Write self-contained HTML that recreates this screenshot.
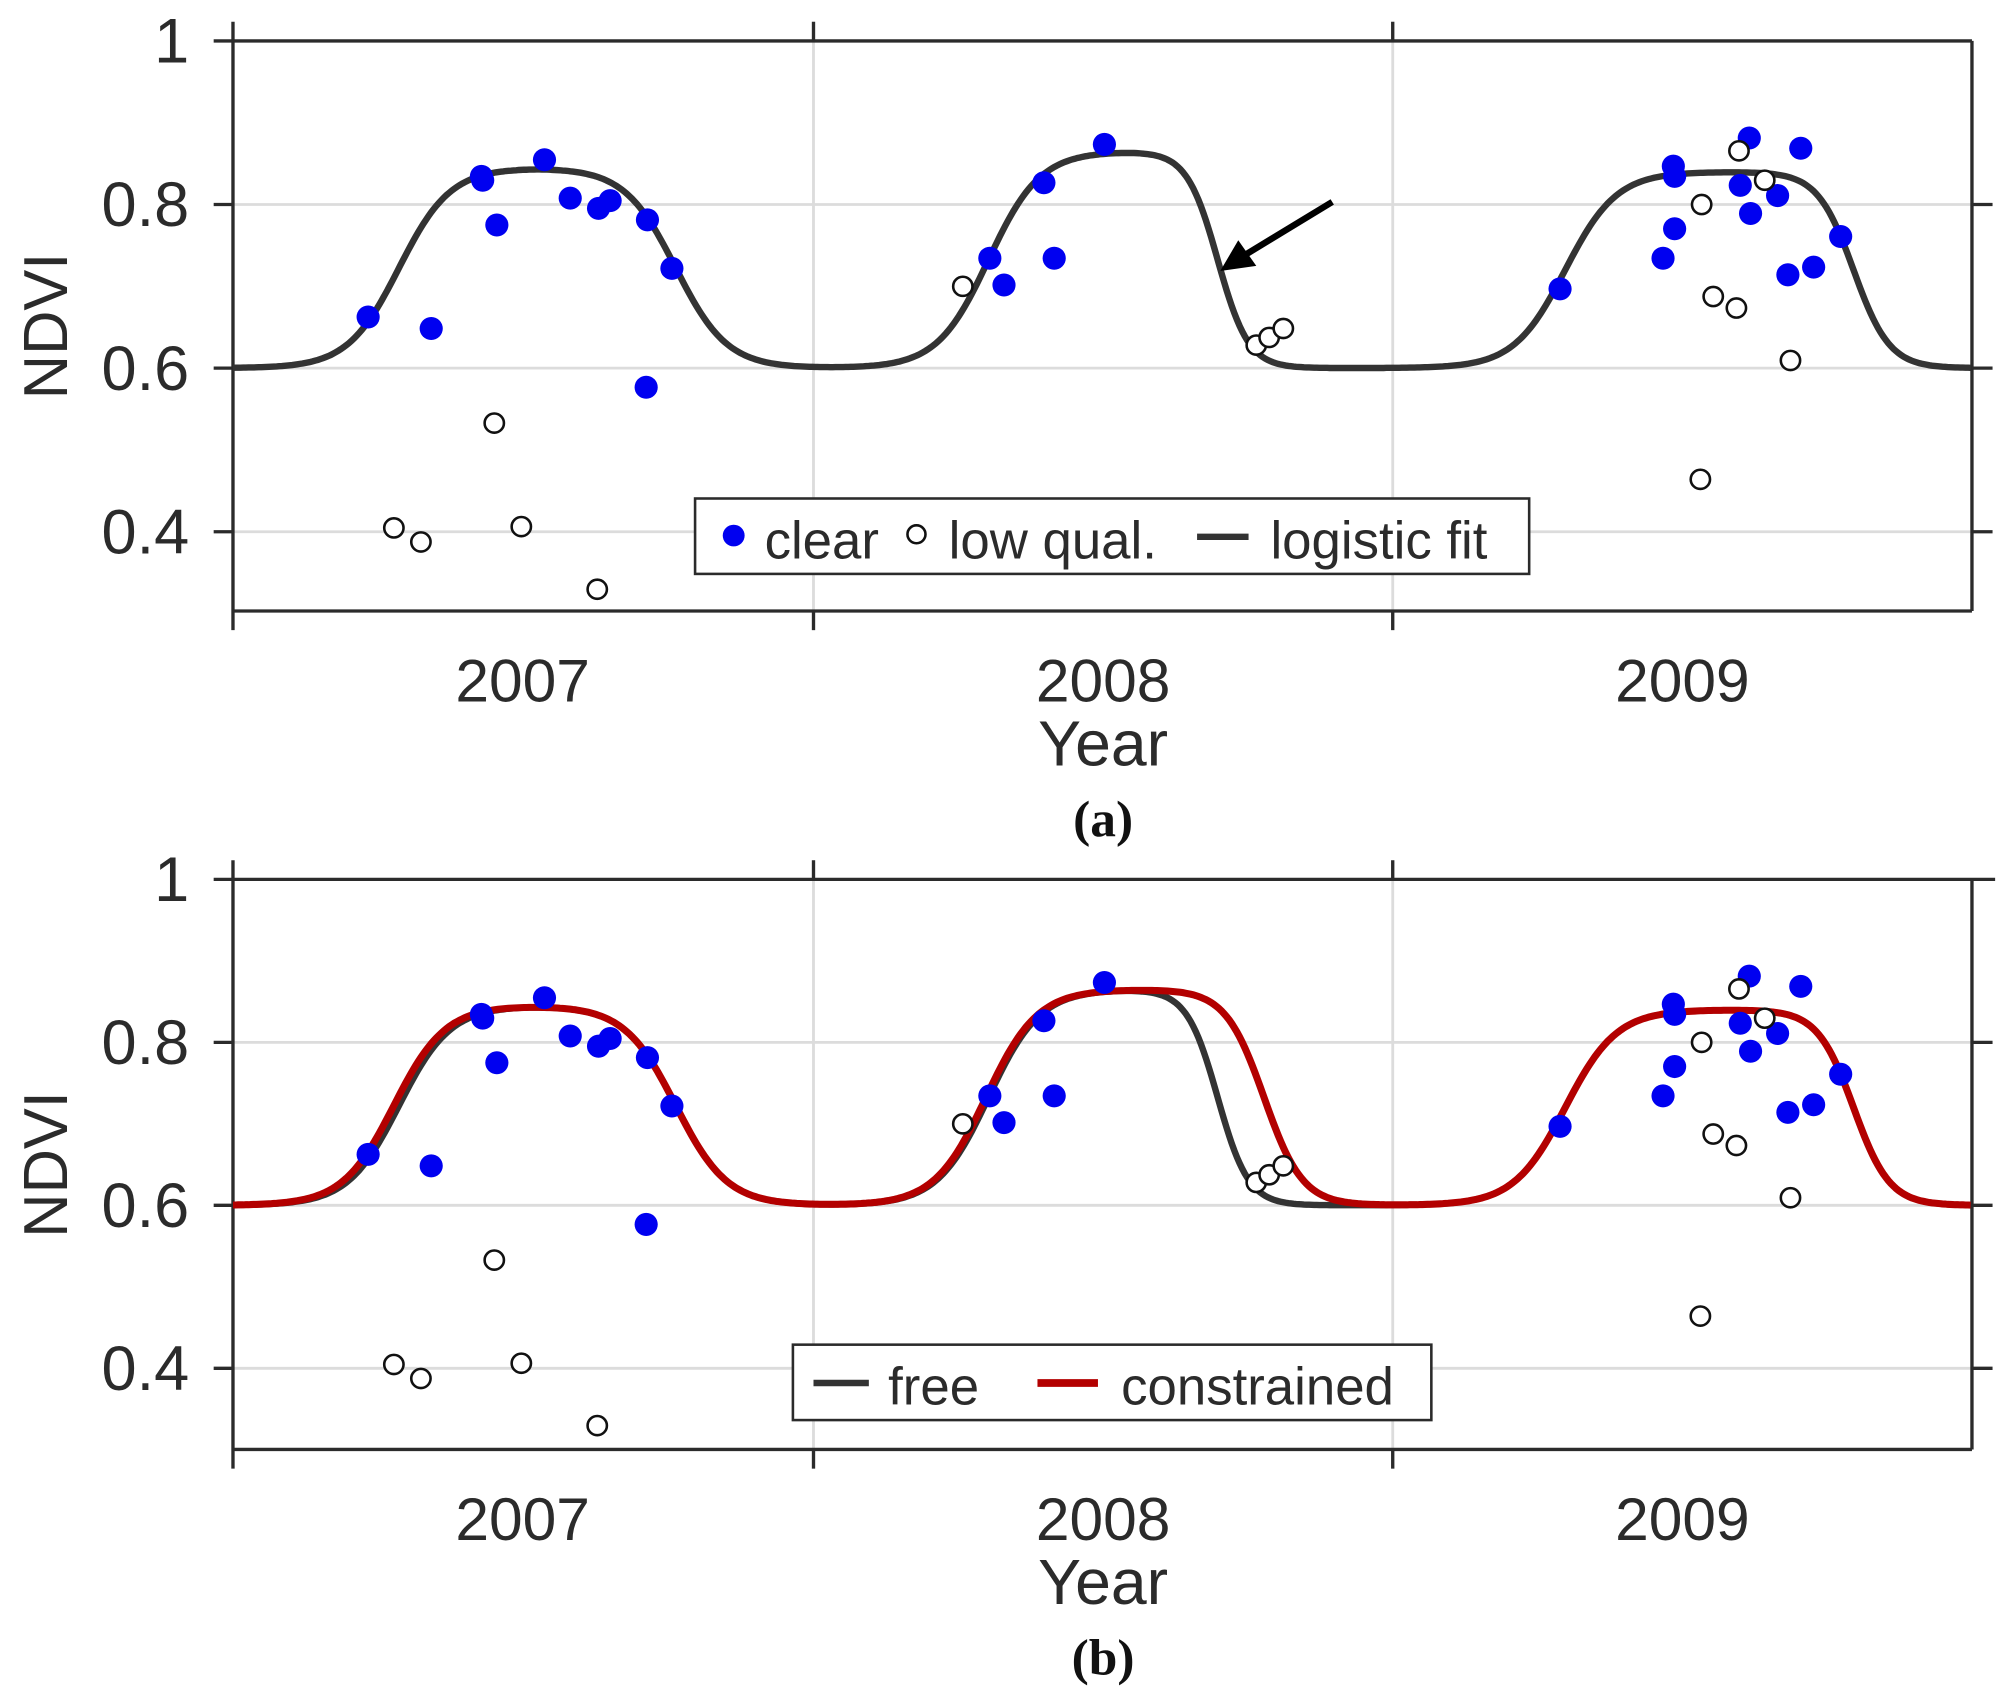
<!DOCTYPE html>
<html><head><meta charset="utf-8"><style>html,body{margin:0;padding:0;background:#fff}svg{display:block}text{font-family:"Liberation Sans",sans-serif;fill:#2b2b2b}</style></head>
<body>
<svg id="s" width="2008" height="1700" viewBox="0 0 1560 1330" preserveAspectRatio="none" xmlns="http://www.w3.org/2000/svg">
<g id="ga"></g><g id="gb"></g>
<text x="857" y="654" text-anchor="middle" style="font-family:'Liberation Serif',serif;font-weight:bold;font-size:40px;fill:#111">(a)</text>
<text x="857" y="1310" text-anchor="middle" style="font-family:'Liberation Serif',serif;font-weight:bold;font-size:40px;fill:#111">(b)</text>
<line x1="1035" y1="158" x2="968" y2="199" stroke="#000" stroke-width="5"/>
<polygon points="948,212 962,188 976,208" fill="#000"/>
</svg>
<script>
var NS="http://www.w3.org/2000/svg";
function el(p,t,a,txt){var e=document.createElementNS(NS,t);for(var k in a)e.setAttribute(k,a[k]);if(txt)e.textContent=txt;p.appendChild(e);return e;}
function sig(z){return 1/(1+Math.exp(-z));}
function curve(x,S){var v=0.6;S.forEach(function(s){v+=s[0]*(sig((x-s[1])/s[2])-sig((x-s[3])/s[4]));});return v;}
var free=[[0.245,310,20,525,20],[0.265,768,20,946,12],[0.24,1216,20,1440,14]];
var cons=[[0.245,306,20,525,20],[0.265,766,20,982,15],[0.24,1216,20,1440,14]];
var clear=[[286,248],[374,138],[375,141],[386,176],[335,257],[423,125],[443,155],[465,163],[474,157],[503,172],[502,303],[522,210],[769,202],[780,223],[811,143],[819,202],[858,113],[1212,226],[1300,130],[1301,138],[1301,179],[1292,202],[1352,145],[1359,108],[1360,167],[1381,153],[1389,215],[1399,116],[1409,209],[1430,185]];
var low=[[306,413],[327,424],[384,331],[405,412],[464,461],[748,224],[976,270],[986,264],[997,257],[1322,160],[1331,232],[1349,241],[1351,118],[1371,141],[1391,282],[1321,375]];
function panel(g,top,unit,bot,isB){
  var Y=function(v){return top+(1-v)*unit*25;};
  [0.8,0.6,0.4].forEach(function(v){el(g,'line',{x1:181,x2:1532,y1:Y(v),y2:Y(v),stroke:'#dcdcdc','stroke-width':2.2});});
  [632,1082].forEach(function(x){el(g,'line',{x1:x,x2:x,y1:top,y2:bot,stroke:'#dcdcdc','stroke-width':2.2});});
  var ax={stroke:'#2b2b2b','stroke-width':2.6,fill:'none'};
  el(g,'line',Object.assign({x1:181,x2:181,y1:top-15,y2:bot+15},ax));
  el(g,'line',Object.assign({x1:166,x2:isB?1550:1532,y1:top,y2:top},ax));
  el(g,'line',Object.assign({x1:181,x2:1532,y1:bot,y2:bot},ax));
  el(g,'line',Object.assign({x1:1532,x2:1532,y1:top,y2:bot},ax));
  [632,1082].forEach(function(x){el(g,'line',Object.assign({x1:x,x2:x,y1:top-15,y2:top},ax));el(g,'line',Object.assign({x1:x,x2:x,y1:bot,y2:bot+15},ax));});
  [0.8,0.6,0.4].forEach(function(v){el(g,'line',Object.assign({x1:166,x2:181,y1:Y(v),y2:Y(v)},ax));el(g,'line',Object.assign({x1:1532,x2:1548,y1:Y(v),y2:Y(v)},ax));});
  [[1,'1'],[0.8,'0.8'],[0.6,'0.6'],[0.4,'0.4']].forEach(function(t){el(g,'text',{x:147,y:Y(t[0])+17,'text-anchor':'end','font-size':49},t[1]);});
  [[406,'2007'],[857,'2008'],[1307,'2009']].forEach(function(t){el(g,'text',{x:t[0],y:bot+71,'text-anchor':'middle','font-size':47},t[1]);});
  el(g,'text',{x:857,y:bot+121,'text-anchor':'middle','font-size':50},'Year');
  var cy=(top+bot)/2;
  el(g,'text',{x:0,y:0,'text-anchor':'middle','font-size':48,transform:'translate(52,'+cy+') rotate(-90)'},'NDVI');
  function path(S){var d='';for(var x=181;x<=1532;x+=2){d+=(x==181?'M':'L')+x+','+Y(curve(x,S)).toFixed(1);}return d;}
  el(g,'path',{d:path(free),stroke:'#333',"stroke-width":5,fill:'none'});
  if(isB)el(g,'path',{d:path(cons),stroke:'#b30000',"stroke-width":5.5,fill:'none'});
  var f=function(y){return top+(y-32)*unit/25.6;};
  clear.forEach(function(p){el(g,'circle',{cx:p[0],cy:f(p[1]),r:9,fill:'#0000f0'});});
  low.forEach(function(p){el(g,'circle',{cx:p[0],cy:f(p[1]),r:7.5,fill:'#fff',stroke:'#111','stroke-width':2});});
  if(!isB){
    el(g,'rect',{x:540,y:390,width:648,height:59,fill:'#fff',stroke:'#2b2b2b','stroke-width':2});
    el(g,'circle',{cx:570,cy:419,r:8.5,fill:'#0000f0'});
    el(g,'text',{x:594,y:437,'font-size':41,fill:'#111'},'clear');
    el(g,'circle',{cx:712,cy:418,r:7,fill:'#fff',stroke:'#111','stroke-width':2});
    el(g,'text',{x:737,y:437,'font-size':41},'low qual.');
    el(g,'line',{x1:930,x2:970,y1:420,y2:420,stroke:'#333','stroke-width':5});
    el(g,'text',{x:987,y:437,'font-size':41},'logistic fit');
  } else {
    el(g,'rect',{x:616,y:1052,width:496,height:59,fill:'#fff',stroke:'#2b2b2b','stroke-width':2});
    el(g,'line',{x1:632,x2:675,y1:1082,y2:1082,stroke:'#333','stroke-width':5});
    el(g,'text',{x:690,y:1099,'font-size':41},'free');
    el(g,'line',{x1:806,x2:853,y1:1082,y2:1082,stroke:'#b30000','stroke-width':6});
    el(g,'text',{x:871,y:1099,'font-size':41},'constrained');
  }
}
panel(document.getElementById('ga'),32,25.6,478,false);
panel(document.getElementById('gb'),688,25.5,1134,true);
</script>
</body></html>
